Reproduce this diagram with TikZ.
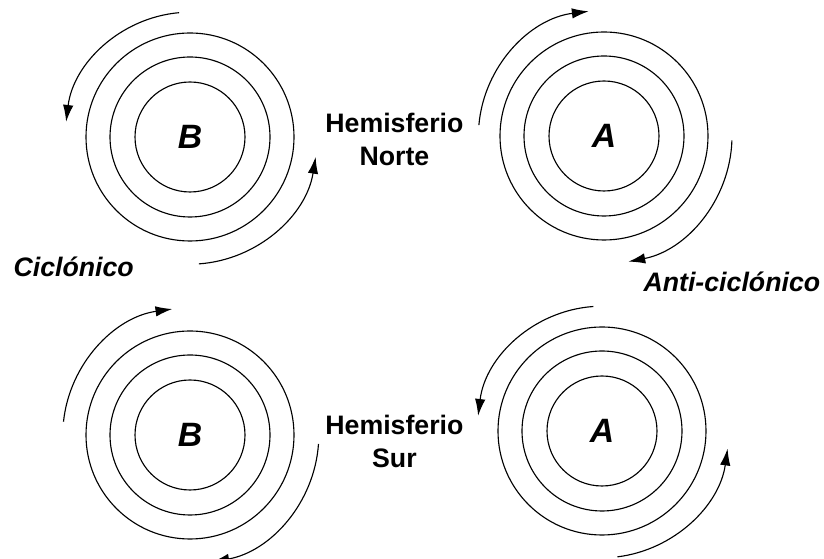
\documentclass[tikz,border=0pt]{standalone}
\usepackage{fontspec}
\setmainfont{Liberation Sans}
\usepackage{tikz}
\usetikzlibrary{arrows.meta,positioning}

\tikzset{
  letra/.style={font=\fontsize{24pt}{28pt}\selectfont\bfseries\itshape, inner sep=0pt},
  rotulo/.style={font=\fontsize{19pt}{23.5pt}\selectfont\bfseries, inner sep=0pt},
  giro/.style={font=\fontsize{19pt}{23.5pt}\selectfont\bfseries\itshape, inner sep=0pt},
  flecha/.style={-{Latex[length=4.2mm,width=2.6mm]}}
}

\begin{document}
\begin{tikzpicture}[line width=0.8pt]
\useasboundingbox (0,0) rectangle (20.6,13.975);
% centros
\node[letra] (bnorte) at (4.75,10.55) {B};
\node[letra] (anorte) at (15.1,10.575) {A};
\node[letra] (bsur) at (4.75,3.1) {B};
\node[letra] (asur) at (15.05,3.2) {A};
% isobaras
\foreach \c in {bnorte,anorte,bsur,asur}
  \foreach \r in {1.375,2.0,2.6}
    \draw (\c.center) circle[radius=\r];
% hemisferio norte: ciclonico antihorario, anticiclonico horario
\draw[flecha] ([shift={(95:3.12)}]bnorte.center) arc[start angle=95, end angle=173, radius=3.12];
\draw[flecha] ([shift={(-86:3.18)}]bnorte.center) arc[start angle=-86, end angle=-9, radius=3.18];
\draw[flecha] ([shift={(175:3.14)}]anorte.center) arc[start angle=175, end angle=97, radius=3.14];
\draw[flecha] ([shift={(-2:3.2)}]anorte.center) arc[start angle=-2, end angle=-79, radius=3.2];
% hemisferio sur: ciclonico horario, anticiclonico antihorario
\draw[flecha] ([shift={(174:3.18)}]bsur.center) arc[start angle=174, end angle=98, radius=3.18];
\draw[flecha] ([shift={(-4:3.22)}]bsur.center) arc[start angle=-4, end angle=-80, radius=3.22];
\draw[flecha] ([shift={(94:3.12)}]asur.center) arc[start angle=94, end angle=173, radius=3.12];
\draw[flecha] ([shift={(-83:3.17)}]asur.center) arc[start angle=-83, end angle=-8, radius=3.17];
% rotulos
\node[rotulo, align=center, anchor=north] (hnorte) at (9.86,11.15) {Hemisferio\\Norte};
\node[rotulo, align=center, anchor=north] (hsur) at (9.86,3.6) {Hemisferio\\Sur};
\node[giro, anchor=base west] (ciclo) at (0.325,7.05) {Ciclónico};
\node[giro, anchor=base west] (anticiclo) at (16.075,6.675) {Anti-ciclónico};
\end{tikzpicture}
\end{document}
